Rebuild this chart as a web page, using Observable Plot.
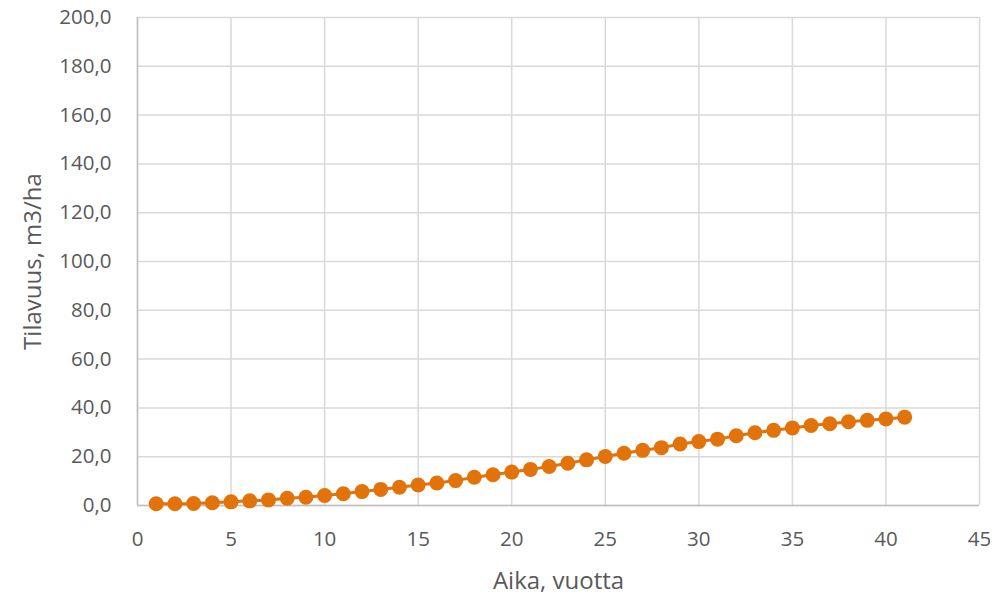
<!DOCTYPE html>
<html>
<head>
<meta charset="utf-8">
<script src="https://cdn.jsdelivr.net/npm/d3@7"></script>
<script src="https://cdn.jsdelivr.net/npm/@observablehq/plot@0.6"></script>
<style>
  html, body { margin: 0; padding: 0; background: #fff; }
  #chart { width: 1000px; height: 595px; }
  svg { font-family: "Open Sans", "Noto Sans", sans-serif; }
</style>
</head>
<body>
<div id="chart"></div>
<script>
const years = [1,2,3,4,5,6,7,8,9,10,11,12,13,14,15,16,17,18,19,20,21,22,23,24,25,26,27,28,29,30,31,32,33,34,35,36,37,38,39,40,41];
const volume = [0.7,0.7,0.8,1.1,1.5,1.9,2.3,3.0,3.4,4.1,4.8,5.7,6.6,7.5,8.4,9.2,10.2,11.6,12.6,13.7,14.8,16.0,17.3,18.7,20.1,21.4,22.6,23.7,25.2,26.2,27.2,28.6,29.8,30.8,31.8,32.8,33.5,34.3,34.9,35.5,36.2];
const xTicks = [0,5,10,15,20,25,30,35,40,45];
const yTicks = [0,20,40,60,80,100,120,140,160,180,200];
const xLabel = "Aika, vuotta";
const yLabel = "Tilavuus, m3/ha";

const data = years.map((x, i) => ({x, y: volume[i]}));
const fmt = d => d.toFixed(1).replace(".", ",");
const orange = "#E2730A";
const grid = "#d9d9d9";
const textColor = "#595959";

const chart = Plot.plot({
  width: 1000,
  height: 595,
  marginLeft: 137,
  marginRight: 21,
  marginTop: 17,
  marginBottom: 90,
  style: {fontSize: "20.5px", color: textColor, fontFamily: "'Open Sans', 'Noto Sans', sans-serif", background: "#fff"},
  x: {domain: [0, 45]},
  y: {domain: [0, 200]},
  marks: [
    Plot.gridX(xTicks, {stroke: grid, strokeOpacity: 1, strokeWidth: 1.5}),
    Plot.gridY(yTicks, {stroke: grid, strokeOpacity: 1, strokeWidth: 1.5}),
    Plot.ruleY([0], {stroke: "#bfbfbf", strokeWidth: 1.5}),
    Plot.ruleX([0], {stroke: "#bfbfbf", strokeWidth: 1.5}),
    Plot.axisX(xTicks, {tickSize: 0, tickPadding: 26, fill: textColor, label: null, fontSize: 20.5}),
    Plot.axisY(yTicks, {tickSize: 0, tickPadding: 26, fill: textColor, tickFormat: fmt, label: null, fontSize: 20.5}),
    Plot.text([xLabel], {frameAnchor: "bottom", dy: 76, lineAnchor: "middle", textAnchor: "middle", fill: textColor, fontSize: 24}),
    Plot.text([yLabel], {frameAnchor: "left", dx: -104, lineAnchor: "middle", textAnchor: "middle", rotate: -90, fill: textColor, fontSize: 24}),
    Plot.line(data, {x: "x", y: "y", stroke: orange, strokeWidth: 3}),
    Plot.dot(data, {x: "x", y: "y", r: 7.5, fill: orange, stroke: "none"})
  ]
});
document.getElementById("chart").append(chart);
</script>
</body>
</html>
